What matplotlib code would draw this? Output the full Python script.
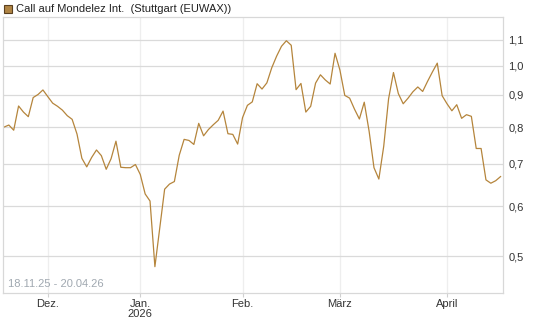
import matplotlib
matplotlib.use("Agg")
import matplotlib.pyplot as plt
from matplotlib.ticker import FixedLocator, NullLocator
import pandas as pd

plt.rcParams['font.family'] = ['Liberation Sans', 'DejaVu Sans']

# Kurs des Calls (Stuttgart EUWAX), Handelstage 18.11.25 - 20.04.26
kurse = [0.800, 0.806, 0.791, 0.864, 0.845, 0.831, 0.891, 0.901, 0.916,
         0.894, 0.873, 0.863, 0.851, 0.834, 0.823, 0.780, 0.714, 0.692, 0.716,
         0.736, 0.721, 0.686, 0.713, 0.760, 0.691, 0.690, 0.690, 0.698,
         0.673, 0.627, 0.611, 0.481, 0.554, 0.638, 0.650, 0.656, 0.722, 0.765,
         0.762, 0.751, 0.811, 0.775, 0.793, 0.807, 0.820, 0.848, 0.781, 0.779,
         0.752,
         0.828, 0.866, 0.877, 0.937, 0.919, 0.940, 0.993, 1.036, 1.074, 1.096,
         1.078, 0.917, 0.938, 0.845, 0.863, 0.939, 0.968, 0.950, 0.936, 1.047,
         0.985, 0.898, 0.889, 0.854, 0.824, 0.876, 0.788, 0.690, 0.662, 0.746,
         0.887, 0.976, 0.904, 0.871, 0.889, 0.910, 0.926, 0.911, 0.945, 0.978,
         1.010, 0.897, 0.871, 0.849, 0.868, 0.826, 0.837, 0.832, 0.740, 0.740,
         0.660, 0.652, 0.658, 0.668]

feiertage = ['2025-12-24', '2025-12-25', '2025-12-26', '2025-12-31',
             '2026-01-01', '2026-04-03', '2026-04-06']
tage = pd.bdate_range('2025-11-18', '2026-04-20')
tage = tage[~tage.isin(pd.to_datetime(feiertage))]

monate = ['Dez.', 'Jan.\n2026', 'Feb.', 'März', 'April']
monat_start = ['2025-12', '2026-01', '2026-02', '2026-03', '2026-04']
y_ticks = [0.5, 0.6, 0.7, 0.8, 0.9, 1.0, 1.1]

x = list(range(len(kurse)))
tick_pos = []
for m in monat_start:
    tick_pos.append(int(tage.get_indexer([tage[tage.strftime('%Y-%m') == m][0]])[0]))

fig = plt.figure(figsize=(5.45, 3.27), dpi=100)
ax = fig.add_axes([3 / 545, 34 / 327, 500 / 545, 276 / 327])

ax.plot(x, kurse, color='#b5853c', linewidth=0.9)
ax.set_yscale('log')
ax.set_ylim(0.437, 1.195)
ax.set_xlim(-0.2, 102.5)

ax.yaxis.set_major_locator(FixedLocator(y_ticks))
ax.yaxis.set_minor_locator(NullLocator())
ax.set_yticklabels([('%.1f' % v).replace('.', ',') for v in y_ticks])
ax.yaxis.tick_right()
ax.tick_params(axis='y', length=0, pad=4, labelsize=8, labelcolor='#333333')

ax.set_xticks(tick_pos)
ax.set_xticklabels(monate, linespacing=1.1)
ax.tick_params(axis='x', length=3, color='#d0d0d0', pad=1, labelsize=8,
               labelcolor='#333333')

ax.grid(axis='y', color='#dadada', linewidth=0.9)
ax.grid(axis='x', color='#eeeeee', linewidth=0.9)
ax.set_axisbelow(True)
for s in ax.spines.values():
    s.set_color('#d8d8d8')
    s.set_linewidth(0.9)

ax.text(0.011, 0.014, '18.11.25 - 20.04.26', transform=ax.transAxes,
        fontsize=8, color='#a0a8b0', ha='left', va='bottom')

fig.patches.append(plt.Rectangle((4 / 545, 1 - 13 / 327), 8 / 545, 8 / 327,
                                 transform=fig.transFigure, facecolor='#b08545',
                                 edgecolor='#5a4020', linewidth=0.8))
fig.text(16 / 545, 1 - 9 / 327, 'Call auf Mondelez Int.  (Stuttgart (EUWAX))',
         fontsize=8, color='#222222', ha='left', va='center')

fig.savefig('out.png', dpi=100)
